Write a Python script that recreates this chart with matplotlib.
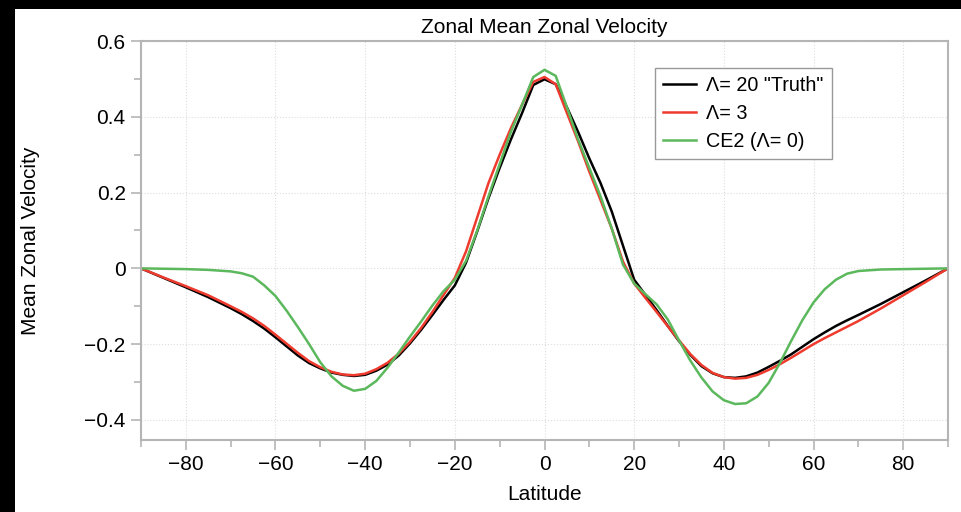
import matplotlib.pyplot as plt
from matplotlib.patches import Rectangle
from matplotlib.ticker import MultipleLocator

plt.rcParams['font.family'] = ['Liberation Sans', 'DejaVu Sans']

# latitude grid (degrees)
lat = [-90, -85, -80, -75, -70, -67.5, -65, -62.5, -60, -57.5, -55, -52.5, -50,
       -47.5, -45, -42.5, -40, -37.5, -35, -32.5, -30, -27.5, -25, -22.5, -20,
       -17.5, -15, -12.5, -10, -7.5, -5, -2.5, 0, 2.5, 5, 7.5, 10, 12.5, 15,
       17.5, 20, 22.5, 25, 27.5, 30, 32.5, 35, 37.5, 40, 42.5, 45, 47.5, 50,
       52.5, 55, 57.5, 60, 62.5, 65, 67.5, 70, 75, 80, 85, 90]

# Lambda = 20 run ("truth")
u_truth = [0, -0.025, -0.050, -0.076, -0.105, -0.121, -0.139, -0.159, -0.182,
           -0.206, -0.230, -0.250, -0.264, -0.275, -0.281, -0.284, -0.281,
           -0.270, -0.254, -0.230, -0.198, -0.162, -0.123, -0.083, -0.045,
           0.015, 0.098, 0.185, 0.265, 0.340, 0.410, 0.484, 0.499, 0.486,
           0.425, 0.360, 0.290, 0.225, 0.150, 0.060, -0.030, -0.070, -0.110,
           -0.152, -0.192, -0.228, -0.258, -0.277, -0.287, -0.289, -0.285,
           -0.275, -0.260, -0.244, -0.227, -0.207, -0.187, -0.169, -0.152,
           -0.137, -0.123, -0.094, -0.063, -0.032, 0]

# Lambda = 3 run
u_l3 = [0, -0.024, -0.047, -0.071, -0.100, -0.115, -0.132, -0.152, -0.175,
        -0.199, -0.223, -0.245, -0.261, -0.273, -0.280, -0.282, -0.278,
        -0.266, -0.249, -0.225, -0.194, -0.157, -0.115, -0.070, -0.025,
        0.045, 0.135, 0.225, 0.300, 0.370, 0.432, 0.492, 0.505, 0.486,
        0.410, 0.335, 0.255, 0.180, 0.105, 0.018, -0.040, -0.078, -0.115,
        -0.153, -0.190, -0.226, -0.255, -0.276, -0.287, -0.291, -0.289,
        -0.281, -0.268, -0.253, -0.236, -0.218, -0.200, -0.184, -0.169,
        -0.154, -0.139, -0.106, -0.071, -0.036, 0]

# CE2 (Lambda = 0)
u_ce2 = [0, -0.001, -0.002, -0.004, -0.008, -0.013, -0.022, -0.045, -0.073,
         -0.112, -0.155, -0.200, -0.248, -0.285, -0.310, -0.323, -0.318,
         -0.297, -0.262, -0.222, -0.180, -0.140, -0.098, -0.060, -0.030,
         0.020, 0.100, 0.190, 0.275, 0.360, 0.432, 0.505, 0.524, 0.508,
         0.425, 0.340, 0.265, 0.190, 0.105, 0.010, -0.040, -0.068, -0.095,
         -0.135, -0.190, -0.243, -0.288, -0.325, -0.348, -0.358, -0.356,
         -0.338, -0.302, -0.250, -0.192, -0.137, -0.090, -0.055, -0.030,
         -0.014, -0.007, -0.003, -0.002, -0.001, 0]

labels = ['\u039b= 20 "Truth"', '\u039b= 3', 'CE2 (\u039b= 0)']

fig = plt.figure(figsize=(9.61, 5.12), dpi=100, facecolor='black')
# white page with a black strip along the top and left edges
fig.patches.append(Rectangle((0.0156, 0), 1 - 0.0156, 1 - 0.0176,
                             transform=fig.transFigure, facecolor='white',
                             edgecolor='none', zorder=-10))

ax = fig.add_axes([0.1467, 0.1406, 0.9865 - 0.1467, 0.9199 - 0.1406])
ax.plot(lat, u_truth, color='black', lw=1.8, label=labels[0])
ax.plot(lat, u_l3, color='#ee3b2e', lw=1.8, label=labels[1])
ax.plot(lat, u_ce2, color='#5cb85c', lw=1.8, label=labels[2])

ax.set_xlim(-90, 90)
ax.set_ylim(-0.453, 0.6)
ax.xaxis.set_minor_locator(MultipleLocator(10))
ax.yaxis.set_minor_locator(MultipleLocator(0.1))
ax.set_yticks([-0.4, -0.2, 0, 0.2, 0.4, 0.6])
ax.set_yticklabels(['\u22120.4', '\u22120.2', '0', '0.2', '0.4', '0.6'])
ax.set_xticks([-80, -60, -40, -20, 0, 20, 40, 60, 80])
ax.set_xticklabels(['\u221280', '\u221260', '\u221240', '\u221220', '0',
                    '20', '40', '60', '80'])

for s in ax.spines.values():
    s.set_color('#b5b5b5')
    s.set_linewidth(1.5)
ax.tick_params(which='both', direction='out', color='#b5b5b5', width=1.2,
               labelsize=15, labelcolor='black')
ax.tick_params(which='major', length=7, pad=4)
ax.tick_params(which='minor', length=5)
ax.grid(True, which='major', color='#dddddd', linestyle=':', linewidth=0.8)

ax.set_title('Zonal Mean Zonal Velocity', fontsize=15, pad=6)
ax.set_xlabel('Latitude', fontsize=15, labelpad=8)
ax.set_ylabel('Mean Zonal Velocity', fontsize=15, labelpad=32)

leg = ax.legend(loc='upper left', bbox_to_anchor=(0.637, 0.932), fontsize=14.2,
                fancybox=False, framealpha=1, edgecolor='#999999',
                handlelength=1.7, handletextpad=0.5, borderpad=0.4,
                labelspacing=0.45, borderaxespad=0)
leg.get_frame().set_linewidth(1.0)

fig.savefig('out.png', dpi=100, facecolor=fig.get_facecolor())
